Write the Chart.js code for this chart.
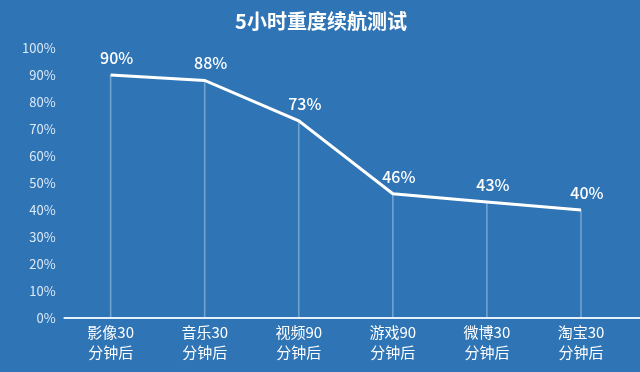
<!DOCTYPE html>
<html>
<head>
<meta charset="utf-8">
<script src="https://cdn.jsdelivr.net/npm/chart.js@4/dist/chart.umd.min.js"></script>
<style>
  html, body { margin: 0; padding: 0; background: #2f74b5; }
  #wrap { width: 640px; height: 372px; }
</style>
</head>
<body>
<div id="wrap"><canvas id="c" width="640" height="372"></canvas></div>
<script>
const title = "5小时重度续航测试";
const categories = [["影像30", "分钟后"], ["音乐30", "分钟后"], ["视频90", "分钟后"], ["游戏90", "分钟后"], ["微博30", "分钟后"], ["淘宝30", "分钟后"]];
const batteryLeft = [90, 88, 73, 46, 43, 40];
const yTicks = [0, 10, 20, 30, 40, 50, 60, 70, 80, 90, 100];

const FONT = '"Noto Sans CJK SC", "Noto Sans", sans-serif';

const extras = {
  id: 'extras',
  afterDatasetsDraw(chart) {
    const ctx = chart.ctx;
    const meta = chart.getDatasetMeta(1);
    ctx.save();
    ctx.fillStyle = '#ffffff';
    ctx.font = '500 16px ' + FONT;
    ctx.textAlign = 'center';
    ctx.textBaseline = 'bottom';
    meta.data.forEach((pt, i) => {
      ctx.fillText(batteryLeft[i] + '%', pt.x + 6, pt.y - 9);
    });
    // extend baseline to the right edge
    const y0 = chart.scales.y.getPixelForValue(0);
    ctx.strokeStyle = '#e6f1fb';
    ctx.lineWidth = 2;
    ctx.beginPath();
    ctx.moveTo(chart.chartArea.left, y0);
    ctx.lineTo(chart.width, y0);
    ctx.stroke();
    ctx.restore();
  }
};

new Chart(document.getElementById('c'), {
  data: {
    labels: categories,
    datasets: [
      {
        type: 'bar',
        data: batteryLeft,
        backgroundColor: 'rgba(220,235,250,0.38)',
        barThickness: 1,
        order: 2
      },
      {
        type: 'line',
        data: batteryLeft,
        borderColor: '#ffffff',
        borderWidth: 3,
        pointRadius: 0,
        tension: 0,
        fill: false,
        order: 1
      }
    ]
  },
  options: {
    responsive: false,
    animation: false,
    layout: { padding: { left: 14, right: 12, top: 0, bottom: 5 } },
    plugins: {
      legend: { display: false },
      tooltip: { enabled: false },
      title: {
        display: true,
        text: title,
        color: '#ffffff',
        font: { family: FONT, size: 20, weight: 'bold' },
        padding: { top: 9, bottom: 15 }
      }
    },
    scales: {
      x: {
        offset: true,
        grid: { display: false, drawTicks: false },
        border: { display: false },
        ticks: {
          color: '#ffffff',
          font: { family: FONT, size: 15, lineHeight: 1.3 },
          padding: 5,
          maxRotation: 0
        }
      },
      y: {
        min: 0,
        max: 100,
        afterBuildTicks(scale) { scale.ticks = yTicks.map(v => ({ value: v })); },
        grid: { display: false, drawTicks: false },
        border: { display: false },
        ticks: {
          color: 'rgba(235,243,252,0.92)',
          font: { family: FONT, size: 13 },
          padding: 8,
          callback: v => v + '%'
        }
      }
    }
  },
  plugins: [extras]
});
</script>
</body>
</html>
